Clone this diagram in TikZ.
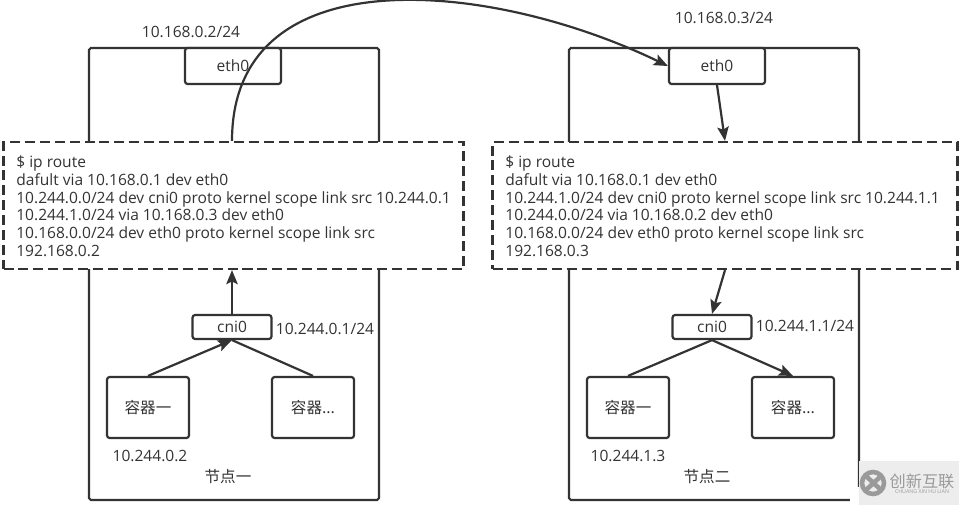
\documentclass[tikz,border=0pt]{standalone}
\usepackage{fontspec}
\setmainfont{Open Sans}
\newfontfamily\cjk{Noto Sans CJK SC}
\usetikzlibrary{arrows.meta}
\definecolor{linecol}{HTML}{333333}
\definecolor{txtcol}{HTML}{333333}
\definecolor{markcol}{HTML}{EDEDED}
\definecolor{logocol}{HTML}{9A9A9A}
\newcommand{\lblfont}{\fontsize{8.85}{10}\selectfont}
\tikzset{
  hostbox/.style={draw=linecol,line width=1.25pt,rounded corners=1pt,minimum width=5.8cm,minimum height=9.04cm},
  ifbox/.style={draw=linecol,line width=1.25pt,fill=white,rounded corners=1.5pt,inner sep=0pt,font=\lblfont},
  podbox/.style={ifbox,minimum width=1.64cm,minimum height=1.22cm,font=\cjk\lblfont},
  routebox/.style={draw=linecol,line width=1.25pt,dash pattern=on 5.7pt off 2.8pt,fill=white,inner sep=0pt,minimum height=2.54cm},
  routetext/.style={align=left,anchor=north west,inner sep=0pt,font=\fontsize{8.85}{10.2}\selectfont},
  lbl/.style={font=\lblfont},
  wire/.style={draw=linecol,line width=1.25pt},
  wirearrow/.style={wire,-{Stealth[length=8pt,width=6.5pt,inset=1.5pt]}}
}
\begin{document}
\begin{tikzpicture}[x=0.02cm,y=-0.02cm,text=txtcol]
  \useasboundingbox (0,0) rectangle (959,505);
  % hosts
  \node[hostbox] (hostA) at (234,274) {};
  \node[hostbox] (hostB) at (714,274) {};
  % interfaces
  \node[ifbox,minimum width=1.92cm,minimum height=0.72cm] (ethA) at (233,66) {eth0};
  \node[ifbox,minimum width=1.92cm,minimum height=0.72cm] (ethB) at (717,66) {eth0};
  \node[ifbox,minimum width=1.58cm,minimum height=0.48cm] (cniA) at (232,327) {cni0};
  \node[ifbox,minimum width=1.58cm,minimum height=0.48cm] (cniB) at (712,327) {cni0};
  % routing tables
  \node[routebox,minimum width=9.2cm] (routeA) at (233.5,205.5) {};
  \node[routebox,minimum width=9.3cm] (routeB) at (725,205.5) {};
  \node[routetext] (textA) at (16,155) {\$ ip route\\
    dafult via 10.168.0.1 dev eth0\\
    10.244.0.0/24 dev cni0 proto kernel scope link src 10.244.0.1\\
    10.244.1.0/24 via 10.168.0.3 dev eth0\\
    10.168.0.0/24 dev eth0 proto kernel scope link src\\
    192.168.0.2};
  \node[routetext] (textB) at (505,155) {\$ ip route\\
    dafult via 10.168.0.1 dev eth0\\
    10.244.1.0/24 dev cni0 proto kernel scope link src 10.244.1.1\\
    10.244.0.0/24 via 10.168.0.2 dev eth0\\
    10.168.0.0/24 dev eth0 proto kernel scope link src\\
    192.168.0.3};
  % containers
  \node[podbox] (podA1) at (148,407.5) {容器一};
  \node[podbox] (podA2) at (313,407.5) {容器...};
  \node[podbox] (podB1) at (628,407.5) {容器一};
  \node[podbox] (podB2) at (793,407.5) {容器...};
  % labels
  \node[lbl] (ipA) at (191,32) {10.168.0.2/24};
  \node[lbl] (ipB) at (724,18) {10.168.0.3/24};
  \node[lbl] (netA) at (325,329) {10.244.0.1/24};
  \node[lbl] (netB) at (805,326) {10.244.1.1/24};
  \node[lbl] (addrA) at (150,456) {10.244.0.2};
  \node[lbl] (addrB) at (628,456) {10.244.1.3};
  \node[font=\cjk\lblfont] (nameA) at (228,477) {节点一};
  \node[font=\cjk\lblfont] (nameB) at (707,477) {节点二};
  % links
  \draw[wirearrow] (routeA.north -| cniA.north) .. controls (232,-45) and (490,-20) .. (ethB.west);
  \draw[wirearrow] (ethB.south) -- (routeB.north);
  \draw[wirearrow] (routeB.south) -- (cniB.north);
  \draw[wirearrow] (cniA.north) -- (routeA.south -| cniA.north);
  \draw[wirearrow] (podA1.north) -- (cniA.south);
  \draw[wire] (cniA.south) -- (podA2.north);
  \draw[wire] (podB1.north) -- (cniB.south);
  \draw[wirearrow] (cniB.south) -- (podB2.north);
  % corner mark
  \fill[white] (850,487) rectangle (859,505);
  \fill[markcol] (859,461) rectangle (959,505);
  \draw[logocol,line width=2.6pt] (873,483) circle (11);
  \draw[logocol,line width=2.6pt] (866,476) -- (881,490) (866,490) -- (881,476);
  \node[font=\cjk\fontsize{9.2}{10}\selectfont,text=logocol,inner sep=0pt] (markcn) at (922,481) {创新互联};
  \node[font=\fontsize{3}{3}\selectfont,text=logocol,inner sep=0pt] (marken) at (922,492) {CHUANG XIN HU LIAN};
\end{tikzpicture}
\end{document}
